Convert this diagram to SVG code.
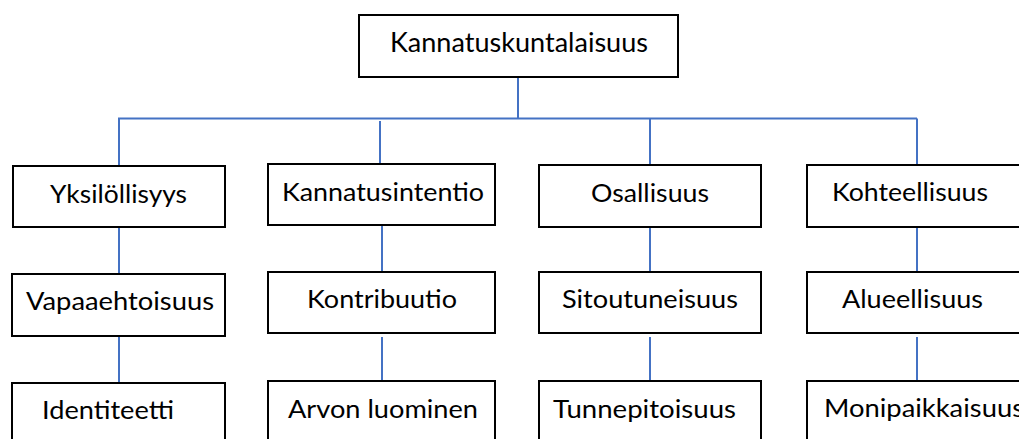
<svg xmlns="http://www.w3.org/2000/svg" width="1019" height="439" viewBox="0 0 1019 439">
<style>
.box{fill:#fff;stroke:#000;stroke-width:2}
.lbl{font-family:Lato,"Open Sans","Liberation Sans",sans-serif;font-size:25px;fill:#000}
.con{stroke:#4472C4;stroke-width:2;fill:none}
</style>
<rect width="1019" height="439" fill="#fff"/>
<g id="connectors">
<path class="con" d="M518 77V118.5M118 118.5H917M119 118.5V166M380 121V164M650 118.5V165M917 118.5V165"/>
<path class="con" d="M119 227V274M382 225V272M650 227V272M917 227V272"/>
<path class="con" d="M119 336V383M382 337V381M650 337V381M917 337V381"/>
</g>
<g id="n-kannatuskuntalaisuus"><rect class="box" x="359" y="15" width="319" height="62"/><text class="lbl" x="390" y="52" textLength="258" lengthAdjust="spacingAndGlyphs" style="font-size:26px">Kannatuskuntalaisuus</text></g>
<g id="n-yksilollisyys"><rect class="box" x="13" y="166" width="212" height="61"/><text class="lbl" x="50" y="203" textLength="137" lengthAdjust="spacingAndGlyphs">Yksilöllisyys</text></g>
<g id="n-kannatusintentio"><rect class="box" x="268" y="164" width="227" height="61"/><text class="lbl" x="282" y="201" textLength="202" lengthAdjust="spacingAndGlyphs">Kannatusintentio</text></g>
<g id="n-osallisuus"><rect class="box" x="539" y="165" width="222" height="62"/><text class="lbl" x="591" y="202" textLength="118" lengthAdjust="spacingAndGlyphs">Osallisuus</text></g>
<g id="n-kohteellisuus"><rect class="box" x="807" y="165" width="230" height="62"/><text class="lbl" x="832" y="201" textLength="156" lengthAdjust="spacingAndGlyphs">Kohteellisuus</text></g>
<g id="n-vapaaehtoisuus"><rect class="box" x="12" y="274" width="213" height="62"/><text class="lbl" x="26" y="310" textLength="188" lengthAdjust="spacingAndGlyphs">Vapaaehtoisuus</text></g>
<g id="n-kontribuutio"><rect class="box" x="268" y="272" width="227" height="61"/><text class="lbl" x="307" y="308" textLength="150" lengthAdjust="spacingAndGlyphs">Kontribuutio</text></g>
<g id="n-sitoutuneisuus"><rect class="box" x="539" y="272" width="222" height="61"/><text class="lbl" x="562" y="308" textLength="176" lengthAdjust="spacingAndGlyphs">Sitoutuneisuus</text></g>
<g id="n-alueellisuus"><rect class="box" x="807" y="272" width="230" height="61"/><text class="lbl" x="842" y="308" textLength="141" lengthAdjust="spacingAndGlyphs">Alueellisuus</text></g>
<g id="n-identiteetti"><rect class="box" x="12" y="383" width="213" height="70"/><text class="lbl" x="42" y="419" textLength="132" lengthAdjust="spacingAndGlyphs">Identiteetti</text></g>
<g id="n-arvon-luominen"><rect class="box" x="268" y="381" width="227" height="72"/><text class="lbl" x="288" y="418" textLength="190" lengthAdjust="spacingAndGlyphs">Arvon luominen</text></g>
<g id="n-tunnepitoisuus"><rect class="box" x="539" y="381" width="222" height="72"/><text class="lbl" x="553" y="418" textLength="183" lengthAdjust="spacingAndGlyphs">Tunnepitoisuus</text></g>
<g id="n-monipaikkaisuus"><rect class="box" x="807" y="381" width="230" height="72"/><text class="lbl" x="824" y="417" textLength="200" lengthAdjust="spacingAndGlyphs">Monipaikkaisuus</text></g>
</svg>
